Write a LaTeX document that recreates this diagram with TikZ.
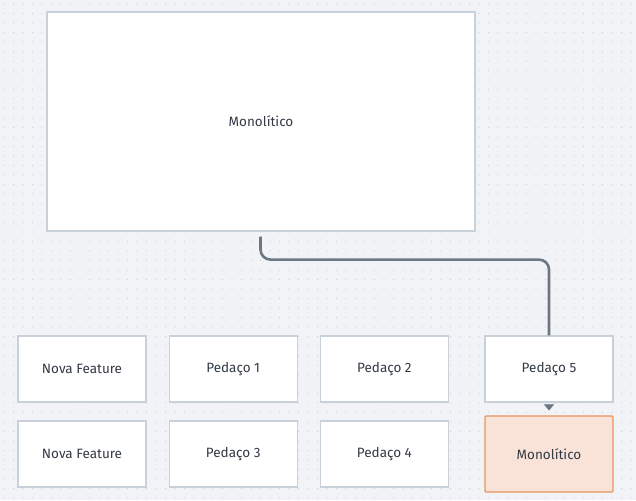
\documentclass[tikz,border=0pt]{standalone}
\usepackage{fontspec}
\setmainfont{Fira Sans}
\usepackage{xcolor}
\usetikzlibrary{positioning,arrows.meta}
\definecolor{canvas}{HTML}{F1F3F6}
\definecolor{griddot}{HTML}{CDD1D7}
\definecolor{boxline}{HTML}{C8D0D9}
\definecolor{linkgray}{HTML}{6B7785}
\definecolor{inktext}{HTML}{333A44}
\definecolor{hotfill}{HTML}{F9E3D8}
\definecolor{hotline}{HTML}{E8945E}
\tikzset{
    piece-box/.style = {draw=boxline, fill=white, line width=1.2pt, rectangle, inner sep=0pt, minimum width=128pt, minimum height=66pt, text=inktext, font=\fontsize{13.5}{16}\selectfont},
    hot-box/.style = {piece-box, draw=hotline, fill=hotfill, minimum height=76pt, rounded corners=1pt},
    link-line/.style = {draw=linkgray, line width=2.6pt},
}

\begin{document}
\begin{tikzpicture}[x=1pt,y=-1pt]
\useasboundingbox (0,0) rectangle (636,500);
\fill[canvas] (0,0) rectangle (636,500);
% dotted canvas
\foreach \gx in {4,13.5,...,636}
  \foreach \gy in {4,13.5,...,500}
    \fill[griddot] (\gx,\gy) circle (0.55pt);

\node [piece-box, minimum width=428pt, minimum height=219pt] (mono) at (261,121.5) {Monolítico};

\node [piece-box] (feat1) at (82,369) {Nova Feature};
\node [piece-box, right=22pt of feat1] (part1) {Pedaço 1};
\node [piece-box, right=22pt of part1] (part2) {Pedaço 2};
\node [piece-box] (part5) at (549,369) {Pedaço 5};

\node [piece-box] (feat2) at (82,454) {Nova Feature};
\node [piece-box, right=22pt of feat2] (part3) {Pedaço 3};
\node [piece-box, right=22pt of part3] (part4) {Pedaço 4};
\node [hot-box] (mono2) at (549,454) {Monolítico};

\draw [link-line, rounded corners=10pt, shorten <=5pt] ([xshift=-0.5pt]mono.south) -- ++(0,28) -| (part5.north);
\draw [-{Triangle[width=10pt,length=6pt]}, draw=linkgray, line width=0.4pt, shorten <=2pt, shorten >=5pt] (part5.south) -- (mono2.north);
\end{tikzpicture}
\end{document}
